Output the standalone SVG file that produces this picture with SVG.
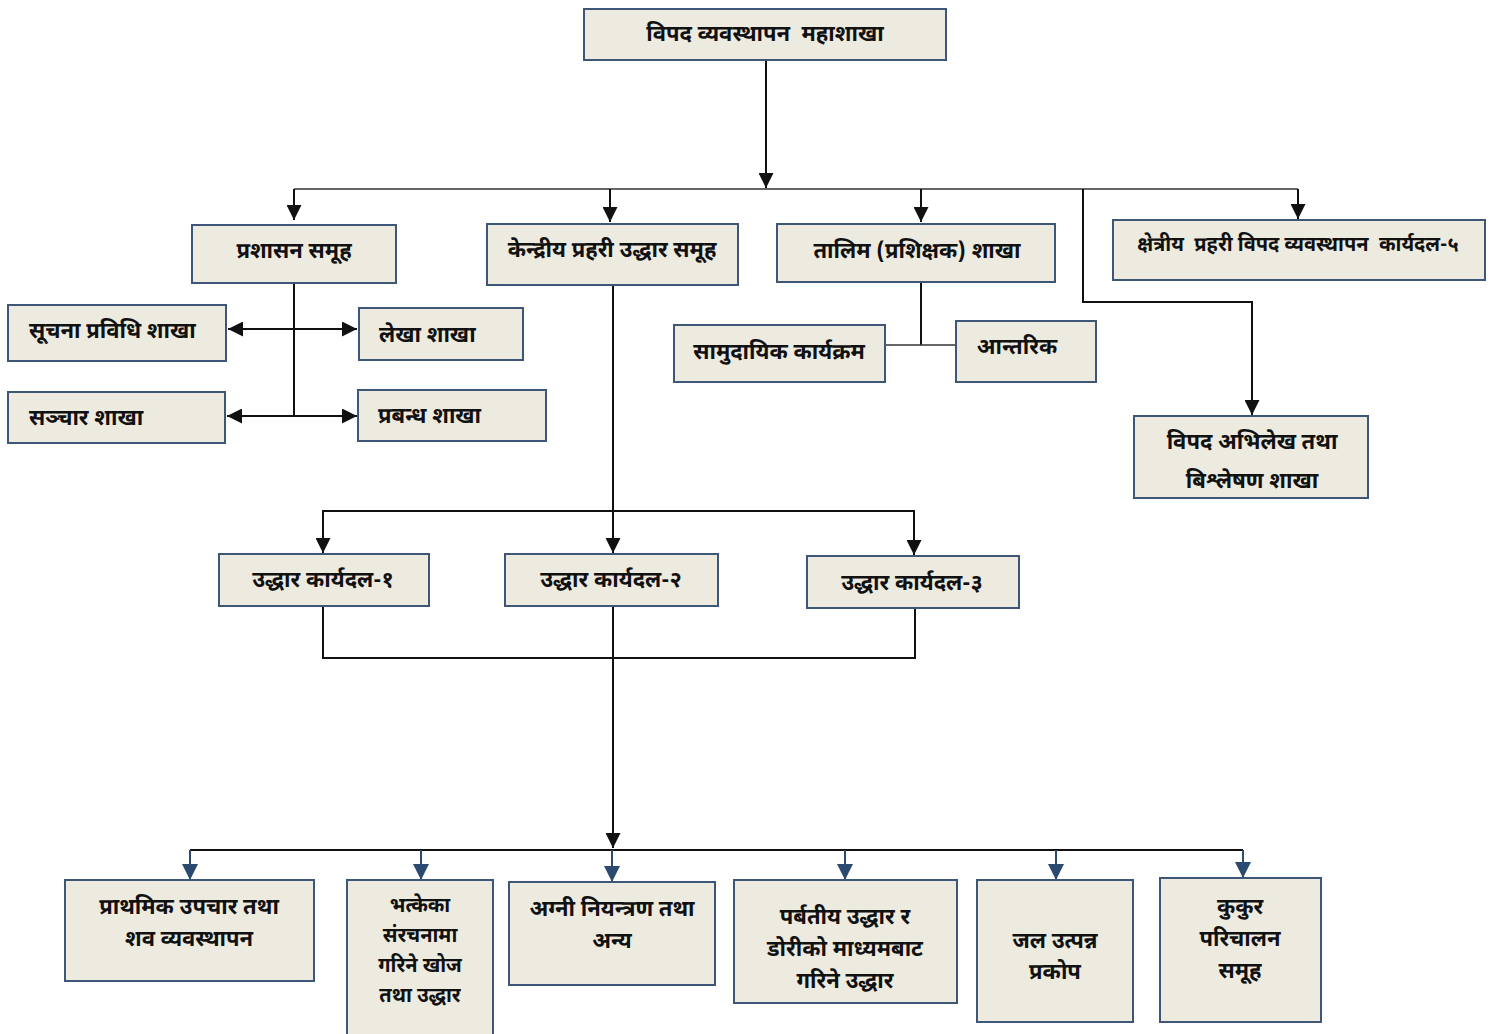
<svg xmlns="http://www.w3.org/2000/svg" width="1499" height="1034" viewBox="0 0 1499 1034">
<defs>
<style>
.box{fill:#EDEAE0;stroke:#3E5778;stroke-width:2}
.t{font-family:"Noto Sans Devanagari","Noto Sans","Lohit Devanagari","DejaVu Sans",sans-serif;font-size:22px;font-weight:bold;fill:#111;text-anchor:middle;dominant-baseline:central;white-space:pre;transform:translate(0px,2px)}
.tl{text-anchor:start}
.s{font-size:20px}
.c{fill:none;stroke:#111;stroke-width:2}
.cg{fill:none;stroke:#333;stroke-width:1.5}
.cb{fill:none;stroke:#2B4A6F;stroke-width:2}
</style>
<marker id="a" viewBox="0 0 10 10" refX="10" refY="5" markerWidth="17" markerHeight="15" orient="auto-start-reverse" markerUnits="userSpaceOnUse"><path d="M0,0 L10,5 L0,10 z" fill="#111"/></marker>
<marker id="ab" viewBox="0 0 10 10" refX="10" refY="5" markerWidth="16" markerHeight="16" orient="auto" markerUnits="userSpaceOnUse"><path d="M0,0 L10,5 L0,10 z" fill="#2B4A6F"/></marker>
</defs>
<rect width="1499" height="1034" fill="#fff"/>

<g id="connectors">
<path class="c" d="M766,60 V188" marker-end="url(#a)"/>
<path class="cg" d="M294,189 H1298"/>
<path class="c" d="M294,189 V220" marker-end="url(#a)"/>
<path class="c" d="M610,189 V222" marker-end="url(#a)"/>
<path class="c" d="M921,189 V222" marker-end="url(#a)"/>
<path class="c" d="M1298,189 V219" marker-end="url(#a)"/>
<path class="c" d="M1083,189 V302 H1252 V415" marker-end="url(#a)"/>
<path class="c" d="M294,284 V416"/>
<path class="c" d="M228,329 H357" marker-start="url(#a)" marker-end="url(#a)"/>
<path class="c" d="M227,416 H357" marker-start="url(#a)" marker-end="url(#a)"/>
<path class="c" d="M921,282 V345"/>
<path class="cg" d="M885,345 H956"/>
<path class="c" d="M613,285 V553" marker-end="url(#a)"/>
<path class="c" d="M323,553 V511 H914 V555" marker-end="url(#a)"/>
<path class="c" d="M323,511 V553" marker-end="url(#a)"/>
<path class="c" d="M323,606 V658 H915 V608"/>
<path class="c" d="M613,606 V848" marker-end="url(#a)"/>
<path class="c" d="M190,850 H1243"/>
<path class="cb" d="M190,850 V880" marker-end="url(#ab)"/>
<path class="cb" d="M421,850 V880" marker-end="url(#ab)"/>
<path class="cb" d="M612,850 V882" marker-end="url(#ab)"/>
<path class="cb" d="M845,850 V880" marker-end="url(#ab)"/>
<path class="cb" d="M1056,850 V880" marker-end="url(#ab)"/>
<path class="cb" d="M1243,850 V878" marker-end="url(#ab)"/>
</g>

<g id="n1"><rect class="box" x="584" y="9" width="362" height="51"/><text class="t" x="765" y="33" xml:space="preserve">विपद व्यवस्थापन  महाशाखा</text></g>
<g id="n2"><rect class="box" x="192" y="225" width="204" height="58"/><text class="t" x="294" y="250">प्रशासन समूह</text></g>
<g id="n3"><rect class="box" x="487" y="224" width="251" height="61"/><text class="t" x="612" y="249">केन्द्रीय प्रहरी उद्धार समूह</text></g>
<g id="n4"><rect class="box" x="777" y="224" width="278" height="58"/><text class="t" x="917" y="250">तालिम (प्रशिक्षक) शाखा</text></g>
<g id="n5"><rect class="box" x="1113" y="220" width="372" height="60"/><text class="t s" x="1298" y="244" xml:space="preserve">क्षेत्रीय  प्रहरी विपद व्यवस्थापन  कार्यदल-५</text></g>
<g id="n6"><rect class="box" x="8" y="305" width="218" height="56"/><text class="t tl" x="29" y="330">सूचना प्रविधि शाखा</text></g>
<g id="n7"><rect class="box" x="359" y="308" width="164" height="52"/><text class="t tl" x="379" y="334">लेखा शाखा</text></g>
<g id="n8"><rect class="box" x="8" y="392" width="217" height="51"/><text class="t tl" x="29" y="417">सञ्चार शाखा</text></g>
<g id="n9"><rect class="box" x="358" y="390" width="188" height="51"/><text class="t tl" x="378" y="415">प्रबन्ध शाखा</text></g>
<g id="n10"><rect class="box" x="674" y="325" width="211" height="57"/><text class="t" x="779" y="351">सामुदायिक कार्यक्रम</text></g>
<g id="n11"><rect class="box" x="956" y="321" width="140" height="61"/><text class="t" x="1017" y="346">आन्तरिक</text></g>
<g id="n12"><rect class="box" x="1134" y="416" width="234" height="82"/><text class="t" x="1252" y="441">विपद अभिलेख तथा</text><text class="t" x="1252" y="480">बिश्लेषण शाखा</text></g>
<g id="n13"><rect class="box" x="219" y="554" width="210" height="52"/><text class="t" x="323" y="579">उद्धार कार्यदल-१</text></g>
<g id="n14"><rect class="box" x="505" y="554" width="213" height="52"/><text class="t" x="611" y="579">उद्धार कार्यदल-२</text></g>
<g id="n15"><rect class="box" x="807" y="556" width="212" height="52"/><text class="t" x="912" y="582">उद्धार कार्यदल-३</text></g>
<g id="n16"><rect class="box" x="65" y="880" width="249" height="101"/><text class="t" x="189" y="906">प्राथमिक उपचार तथा</text><text class="t" x="189" y="938">शव व्यवस्थापन</text></g>
<g id="n17"><rect class="box" x="347" y="880" width="146" height="160"/><text class="t s" x="420" y="905">भत्केका</text><text class="t s" x="420" y="935">संरचनामा</text><text class="t s" x="420" y="965">गरिने खोज</text><text class="t s" x="420" y="995">तथा उद्धार</text></g>
<g id="n18"><rect class="box" x="509" y="882" width="206" height="103"/><text class="t" x="612" y="908">अग्नी नियन्त्रण तथा</text><text class="t" x="612" y="940">अन्य</text></g>
<g id="n19"><rect class="box" x="734" y="880" width="223" height="123"/><text class="t" x="845" y="916">पर्बतीय उद्धार र</text><text class="t" x="845" y="948">डोरीको माध्यमबाट</text><text class="t" x="845" y="980">गरिने उद्धार</text></g>
<g id="n20"><rect class="box" x="977" y="880" width="156" height="142"/><text class="t" x="1055" y="940">जल उत्पन्न</text><text class="t" x="1055" y="971">प्रकोप</text></g>
<g id="n21"><rect class="box" x="1160" y="878" width="161" height="144"/><text class="t" x="1240" y="906">कुकुर</text><text class="t" x="1240" y="938">परिचालन</text><text class="t" x="1240" y="970">समूह</text></g>
</svg>
